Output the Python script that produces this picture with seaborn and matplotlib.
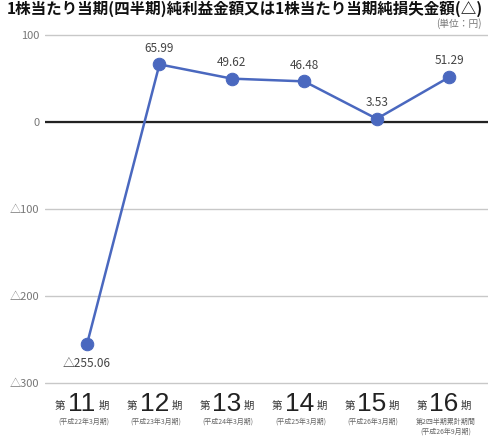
import matplotlib
matplotlib.use("Agg")
import matplotlib.pyplot as plt
import matplotlib.transforms as mtransforms
from matplotlib import font_manager
import seaborn as sns
import pandas as pd

sns.set_theme(style="white")
plt.rcParams['font.family'] = ['Noto Sans CJK JP', 'DejaVu Sans']

periods = ["11", "12", "13", "14", "15", "16"]
subtitles = ["(平成22年3月期)", "(平成23年3月期)", "(平成24年3月期)",
             "(平成25年3月期)", "(平成26年3月期)", "第2四半期累計期間\n(平成26年9月期)"]
values = [-255.06, 65.99, 49.62, 46.48, 3.53, 51.29]
value_labels = ["△255.06", "65.99", "49.62", "46.48", "3.53", "51.29"]
yticks = [100, 0, -100, -200, -300]
ytick_labels = ["100", "0", "△100", "△200", "△300"]

names = {f.name for f in font_manager.fontManager.ttflist}
digit_family = "Liberation Sans Narrow" if "Liberation Sans Narrow" in names else "Liberation Sans"

df = pd.DataFrame({"idx": range(len(values)), "eps": values})

fig = plt.figure(figsize=(4.89, 4.41), dpi=100)
ax = fig.add_axes([45 / 489, 1 - 385 / 441, 444 / 489, 352 / 441])

line_color = "#4a68bf"
sns.lineplot(data=df, x="idx", y="eps", ax=ax, color=line_color, lw=1.8,
             marker="o", markersize=9, markeredgecolor=line_color,
             markerfacecolor=line_color)

ax.set_xlim(-0.58, 5.55)
ax.set_ylim(-302, 102)
for t in yticks:
    ax.axhline(t, color="#c8c8c8", lw=1.0, zorder=0)
ax.axhline(0, color="#222222", lw=1.6, zorder=1)

ax.set_yticks(yticks)
ax.set_yticklabels(ytick_labels, fontsize=8, color="#777777")
ax.tick_params(axis="y", length=0, pad=4)
ax.set_xticks([])
ax.set_xlabel("")
ax.set_ylabel("")
for s in ax.spines.values():
    s.set_visible(False)

# value labels
for i, (v, lab) in enumerate(zip(values, value_labels)):
    if v < 0:
        ax.annotate(lab, (i, v), xytext=(0, -9), textcoords="offset points",
                    ha="center", va="top", fontsize=8.5, color="#444444")
    else:
        ax.annotate(lab, (i, v), xytext=(0, 7), textcoords="offset points",
                    ha="center", va="bottom", fontsize=8.5, color="#444444")

# period labels below the axes
trans = mtransforms.blended_transform_factory(ax.transData, fig.transFigure)
for i, (p, sub) in enumerate(zip(periods, subtitles)):
    cx = i - 0.07
    ax.text(cx, 1 - 404 / 441, p, transform=trans, ha="center", va="center",
            fontsize=19, color="#222222", family=[digit_family])
    left = trans + mtransforms.ScaledTranslation(-17 / 100, 0, fig.dpi_scale_trans)
    right = trans + mtransforms.ScaledTranslation(17 / 100, 0, fig.dpi_scale_trans)
    ax.text(cx, 1 - 406 / 441, "第", transform=left, ha="right", va="center",
            fontsize=7.5, color="#333333")
    ax.text(cx, 1 - 406 / 441, "期", transform=right, ha="left", va="center",
            fontsize=7.5, color="#333333")
    ax.text(i - 0.05, 1 - 418 / 441, sub, transform=trans, ha="center", va="top",
            fontsize=5, color="#666666", linespacing=1.2)

fig.text(0.5, 0.999, "1株当たり当期(四半期)純利益金額又は1株当たり当期純損失金額(△)",
         ha="center", va="top", fontsize=11.2, fontweight="bold", color="#111111")
fig.text(0.985, 1 - 24 / 441, "(単位：円)", ha="right", va="center",
         fontsize=7, color="#777777")

fig.savefig("out.png", dpi=100)
